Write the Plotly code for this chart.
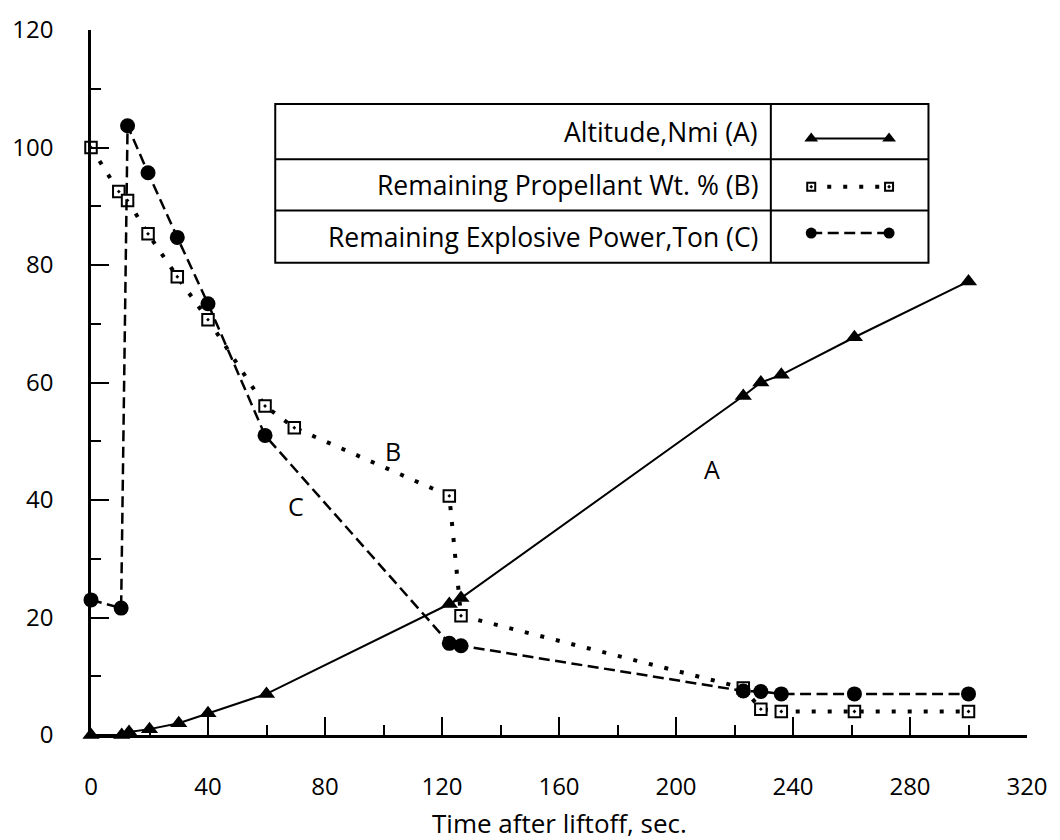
import plotly.graph_objects as go

# Time after liftoff (s) and the three tracked quantities
alt_time = [0, 10.5, 13, 20, 30, 40, 60, 122.5, 126.5, 223, 229, 236, 261, 300]
alt_nmi = [0, 0, 0.5, 1, 2, 3.7, 7, 22.3, 23.3, 57.7, 60, 61.3, 67.7, 77.2]

prop_time = [0, 9.5, 12.5, 19.5, 29.5, 40, 59.5, 69.5, 122.5, 126.5, 223, 229, 236, 261, 300]
prop_pct = [100, 92.5, 91, 85.3, 78, 70.7, 56, 52.3, 40.7, 20.3, 8, 4.4, 4, 4, 4]

expl_time = [0, 10.3, 12.5, 19.5, 29.5, 40, 59.5, 122.5, 126.5, 223, 229, 236, 261, 300]
expl_ton = [23, 21.6, 103.7, 95.7, 84.7, 73.4, 51, 15.6, 15.2, 7.5, 7.4, 7, 7, 7]

x_ticks = [0, 40, 80, 120, 160, 200, 240, 280, 320]
x_minor = [20, 60, 100, 140, 180, 220, 260, 300]
y_ticks = [0, 20, 40, 60, 80, 100, 120]
y_minor = [10, 30, 50, 70, 90, 110]

series_names = ["Altitude,Nmi (A)", "Remaining Propellant Wt. % (B)",
                "Remaining Explosive Power,Ton (C)"]
curve_tags = ["A", "B", "C"]
tag_pos = [(212.3, 45.2), (103.3, 48.3), (70.2, 38.9)]

FONT = "Open Sans"
INK = "black"

# figure and plotting-area geometry (pixels)
W, H = 1060, 840
PL, PR, PT, PB = 85, 1035, 20, 735


def px_x(px):
    return (px - PL) / (PR - PL)


def px_y(py):
    return (PB - py) / (PB - PT)


# one style per series: line, marker (plot) and marker (key)
styles = [
    dict(line=dict(color=INK, width=2),
         marker=dict(symbol="triangle-up", size=15, color=INK),
         key_marker=dict(symbol="triangle-up", size=12, color=INK)),
    dict(line=dict(color=INK, width=4, dash="4px,12px"),
         marker=dict(symbol="square-dot", size=11.5, color="white",
                     line=dict(color=INK, width=2)),
         key_marker=dict(symbol="square-dot", size=8, color="white",
                         line=dict(color=INK, width=2))),
    dict(line=dict(color=INK, width=2.5, dash="11px,5.5px"),
         marker=dict(symbol="circle", size=15, color=INK),
         key_marker=dict(symbol="circle", size=11, color=INK)),
]

fig = go.Figure()
for (xs, ys), st in zip([(alt_time, alt_nmi), (prop_time, prop_pct),
                         (expl_time, expl_ton)], styles):
    fig.add_trace(go.Scatter(x=xs, y=ys, mode="lines+markers",
                             line=st["line"], marker=st["marker"],
                             cliponaxis=False, showlegend=False,
                             hoverinfo="x+y"))

# curve letters
for tag, (tx, ty) in zip(curve_tags, tag_pos):
    fig.add_annotation(x=tx, y=ty, text=tag, showarrow=False,
                       font=dict(family=FONT, size=25, color=INK))

# ---- key table ----
box_x0, box_x1, box_div = px_x(272), px_x(935), px_x(775)
row_edges = [px_y(95), px_y(151), px_y(203), px_y(256)]
key_x0, key_x1 = px_x(816), px_x(895)
key_y = [px_y(130), px_y(179), px_y(226)]
text_right = px_x(764)

fig.add_shape(type="rect", xref="paper", yref="paper",
              x0=box_x0, x1=box_x1, y0=row_edges[-1], y1=row_edges[0],
              line=dict(color=INK, width=2), fillcolor="white", layer="below")
for ye in row_edges[1:-1]:
    fig.add_shape(type="line", xref="paper", yref="paper",
                  x0=box_x0, x1=box_x1, y0=ye, y1=ye,
                  line=dict(color=INK, width=2))
fig.add_shape(type="line", xref="paper", yref="paper",
              x0=box_div, x1=box_div, y0=row_edges[-1], y1=row_edges[0],
              line=dict(color=INK, width=2))

for i, (name, st) in enumerate(zip(series_names, styles)):
    yc = (row_edges[i] + row_edges[i + 1]) / 2
    fig.add_annotation(xref="paper", yref="paper", x=text_right, y=yc,
                       text=name, showarrow=False, xanchor="right",
                       yanchor="middle",
                       font=dict(family=FONT, size=26.5, color=INK))
    fig.add_trace(go.Scatter(x=[key_x0, key_x1], y=[key_y[i], key_y[i]],
                             xaxis="x2", yaxis="y2", mode="lines+markers",
                             line=st["line"], marker=st["key_marker"],
                             showlegend=False, hoverinfo="skip"))

fig.add_annotation(xref="paper", yref="paper", x=px_x(560), y=px_y(824),
                   text="Time after liftoff, sec.", showarrow=False,
                   xanchor="center", yanchor="middle",
                   font=dict(family=FONT, size=26, color=INK))

axis_common = dict(showgrid=False, zeroline=False, showline=True,
                   linecolor=INK, linewidth=2.5, ticks="inside",
                   ticklen=18, tickwidth=2, tickcolor=INK,
                   tickfont=dict(family=FONT, size=24, color=INK))

fig.update_layout(
    width=W, height=H,
    margin=dict(l=PL, r=W - PR, t=PT, b=H - PB),
    plot_bgcolor="white", paper_bgcolor="white",
    showlegend=False,
    font=dict(family=FONT, size=24, color=INK),
    xaxis=dict(range=[0, 320], tickmode="array", tickvals=x_ticks,
               ticktext=[str(v) for v in x_ticks], ticklabelstandoff=28,
               minor=dict(tickmode="array", tickvals=x_minor,
                          ticks="inside", ticklen=10, tickwidth=2,
                          tickcolor=INK, showgrid=False),
               **axis_common),
    yaxis=dict(range=[0, 120], tickmode="array", tickvals=y_ticks,
               ticktext=[str(v) for v in y_ticks], ticklabelstandoff=30,
               minor=dict(tickmode="array", tickvals=y_minor,
                          ticks="inside", ticklen=10, tickwidth=2,
                          tickcolor=INK, showgrid=False),
               **axis_common),
    xaxis2=dict(range=[0, 1], overlaying="x", visible=False,
                fixedrange=True),
    yaxis2=dict(range=[0, 1], overlaying="y", visible=False,
                fixedrange=True),
)

fig.write_html("out.html")
